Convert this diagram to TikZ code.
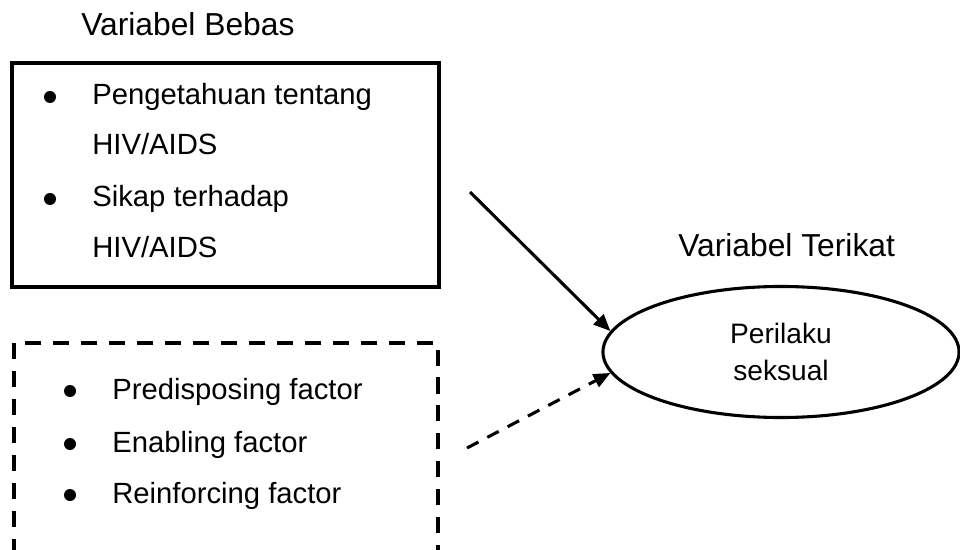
\documentclass[tikz,border=0pt]{standalone}
\usepackage{fontspec}
\setmainfont{Liberation Sans}
\usetikzlibrary{shapes.geometric,arrows.meta}

\begin{document}
\begin{tikzpicture}[x=0.025cm,y=-0.025cm]
                \tikzstyle{every node}+=[inner sep=0pt]
                \tikzstyle{judul}=[font=\fontsize{22.6}{27}\selectfont, anchor=base west]
                \tikzstyle{butir}=[font=\fontsize{20.8}{25}\selectfont, anchor=base west]
                \tikzstyle{titik}=[circle, fill=black, minimum size=0.3cm]
                \tikzstyle{panah}=[line width=2.2pt, -{Triangle[length=0.42cm,width=0.35cm]}]
                \useasboundingbox (0,0) rectangle (960,550);
                % variabel bebas
                \node[judul] (bebas) at (81,36) {Variabel Bebas};
                \draw [black, line width=2.2pt] (12,63) rectangle (439,287);
                \node[titik] (t1) at (50,97) {};
                \node[butir] (p1) at (92,105) {Pengetahuan tentang};
                \node[butir] (p1b) at (92,155) {HIV/AIDS};
                \node[titik] (t2) at (50,199) {};
                \node[butir] (p2) at (92,207) {Sikap terhadap};
                \node[butir] (p2b) at (92,258) {HIV/AIDS};
                % faktor lain (garis putus)
                \draw [black, line width=2.5pt, dash pattern=on 11.4pt off 8.5pt] (14,343) rectangle (438,590);
                \node[titik] (t3) at (70,391) {};
                \node[butir] (f1) at (112,399) {Predisposing factor};
                \node[titik] (t4) at (70,444) {};
                \node[butir] (f2) at (112,452) {Enabling factor};
                \node[titik] (t5) at (70,495) {};
                \node[butir] (f3) at (112,503) {Reinforcing factor};
                % variabel terikat
                \node[judul] (terikat) at (678,257) {Variabel Terikat};
                \node[ellipse, draw, line width=2.2pt, minimum width=8.9cm, minimum height=3.275cm,
                      align=center, font=\fontsize{20}{26.5}\selectfont] (perilaku) at (781,352) {Perilaku\\seksual};
                % panah
                \coordinate (a1) at (470,192);
                \coordinate (a2) at (467,448);
                \draw [panah] (a1) -- (perilaku.173);
                \draw [panah, dash pattern=on 9.2pt off 7.1pt] (a2) -- (perilaku.187);
\end{tikzpicture}
\end{document}
